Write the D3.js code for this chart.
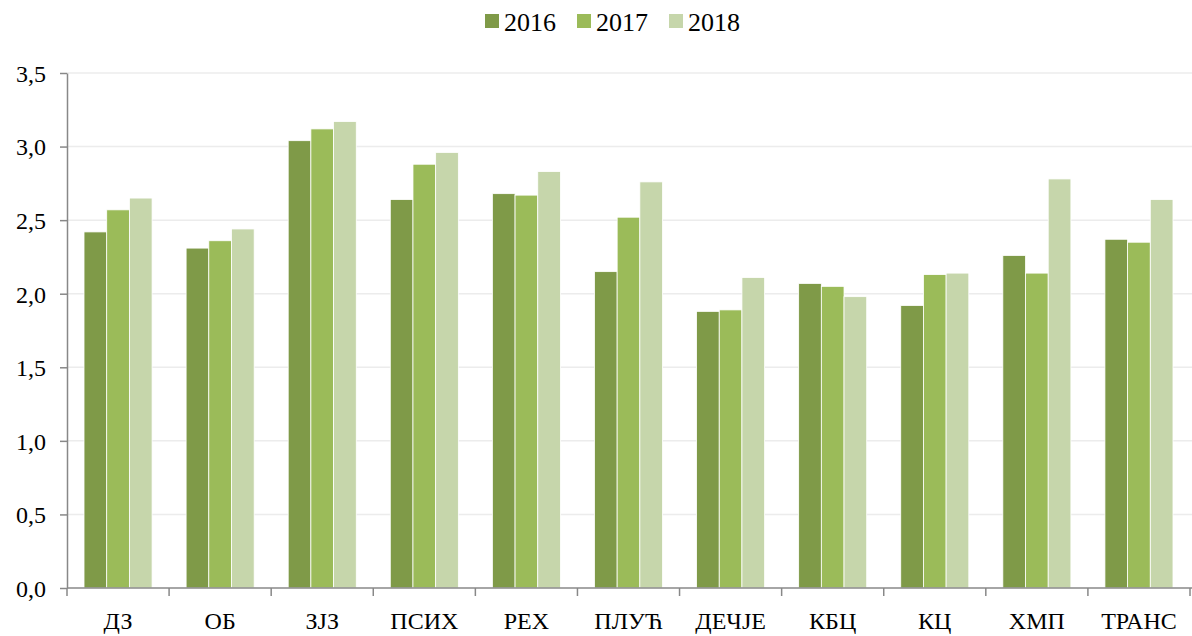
<!DOCTYPE html>
<html>
<head>
<meta charset="utf-8">
<script src="https://cdn.jsdelivr.net/npm/d3@7"></script>
<style>
  body { margin: 0; background: #fff; }
  svg { display: block; }
</style>
</head>
<body>
<div id="chart"></div>
<script>
// categories and series values
const categories = ["ДЗ", "ОБ", "ЗЈЗ", "ПСИХ", "РЕХ", "ПЛУЋ", "ДЕЧЈЕ", "КБЦ", "КЦ", "ХМП", "ТРАНС"];
const years = ["2016", "2017", "2018"];
const values2016 = [2.42, 2.31, 3.04, 2.64, 2.68, 2.15, 1.88, 2.07, 1.92, 2.26, 2.37];
const values2017 = [2.57, 2.36, 3.12, 2.88, 2.67, 2.52, 1.89, 2.05, 2.13, 2.14, 2.35];
const values2018 = [2.65, 2.44, 3.17, 2.96, 2.83, 2.76, 2.11, 1.98, 2.14, 2.78, 2.64];
const yTicks = [0, 0.5, 1, 1.5, 2, 2.5, 3, 3.5];
const colors = ["#7f9a48", "#9bbb59", "#c6d6ab"];

const FONT = "Liberation Serif, Times New Roman, DejaVu Serif, serif";

function chart(container) {
    const width = 1192;
    const height = 636;
    const marginTop = 73;
    const marginRight = 2;
    const marginBottom = 48;
    const marginLeft = 67;

    const series = [values2016, values2017, values2018];

    const x = d3.scaleBand()
        .domain(categories)
        .range([marginLeft, width - marginRight])
        .paddingInner(1 / 3)
        .paddingOuter(1 / 6);

    const xSub = d3.scaleBand()
        .domain(years)
        .range([0, x.bandwidth()]);

    const y = d3.scaleLinear()
        .domain([0, 3.5])
        .range([height - marginBottom, marginTop]);

    const color = d3.scaleOrdinal().domain(years).range(colors);

    const svg = d3.select(container).append("svg")
        .attr("width", width)
        .attr("height", height)
        .attr("viewBox", [0, 0, width, height])
        .attr("font-family", FONT);

    // gridlines
    svg.append("g")
        .selectAll("line")
        .data(yTicks.filter(d => d > 0))
        .join("line")
            .attr("x1", marginLeft)
            .attr("x2", width)
            .attr("y1", d => y(d))
            .attr("y2", d => y(d))
            .attr("stroke", "#ececec")
            .attr("stroke-width", 1.5);

    // bars
    const rows = categories.map((c, i) => ({cat: c, vals: years.map((yr, j) => ({year: yr, value: series[j][i]}))}));

    svg.append("g")
        .selectAll("g")
        .data(rows)
        .join("g")
            .attr("transform", d => `translate(${x(d.cat)},0)`)
        .selectAll("rect")
        .data(d => d.vals)
        .join("rect")
            .attr("x", d => xSub(d.year))
            .attr("width", xSub.bandwidth())
            .attr("y", d => y(d.value))
            .attr("height", d => y(0) - y(d.value))
            .attr("fill", d => color(d.year))
            .attr("stroke", "#fff")
            .attr("stroke-width", 0.8);

    // y axis
    svg.append("g")
        .attr("transform", `translate(${marginLeft},0)`)
        .call(d3.axisLeft(y)
            .tickValues(yTicks)
            .tickFormat(d => d3.format(".1f")(d).replace(".", ","))
            .tickSize(7)
            .tickPadding(14)
            .tickSizeOuter(0))
        .attr("font-family", FONT)
        .attr("font-size", 24)
        .call(g => g.select(".domain").attr("stroke", "#888").attr("stroke-width", 1.5))
        .call(g => g.selectAll(".tick line").attr("stroke", "#888").attr("stroke-width", 1.5))
        .call(g => g.selectAll(".tick text").attr("fill", "#000").attr("dy", "0.35em"));

    // x axis
    const step = x.step();
    const xAxis = svg.append("g")
        .attr("transform", `translate(0,${y(0)})`)
        .attr("font-family", FONT)
        .attr("font-size", 24);
    xAxis.append("line")
        .attr("x1", marginLeft)
        .attr("x2", width)
        .attr("stroke", "#888")
        .attr("stroke-width", 1.5);
    xAxis.selectAll(".tk")
        .data(d3.range(categories.length + 1))
        .join("line")
            .attr("class", "tk")
            .attr("x1", i => marginLeft + i * step)
            .attr("x2", i => marginLeft + i * step)
            .attr("y1", 0)
            .attr("y2", 8)
            .attr("stroke", "#888")
            .attr("stroke-width", 1.5);
    xAxis.selectAll("text")
        .data(categories)
        .join("text")
            .attr("x", d => x(d) + x.bandwidth() / 2)
            .attr("y", 41)
            .attr("text-anchor", "middle")
            .text(d => d);

    // legend
    const legendX = [485, 577, 669];
    const legend = svg.append("g")
        .attr("font-size", 26)
        .selectAll("g")
        .data(years)
        .join("g")
            .attr("transform", (d, i) => `translate(${legendX[i]},14)`);
    legend.append("rect")
        .attr("width", 14)
        .attr("height", 14)
        .attr("fill", d => color(d));
    legend.append("text")
        .attr("x", 19)
        .attr("y", 16.5)
        .text(d => d);
}

chart("#chart");
</script>
</body>
</html>
